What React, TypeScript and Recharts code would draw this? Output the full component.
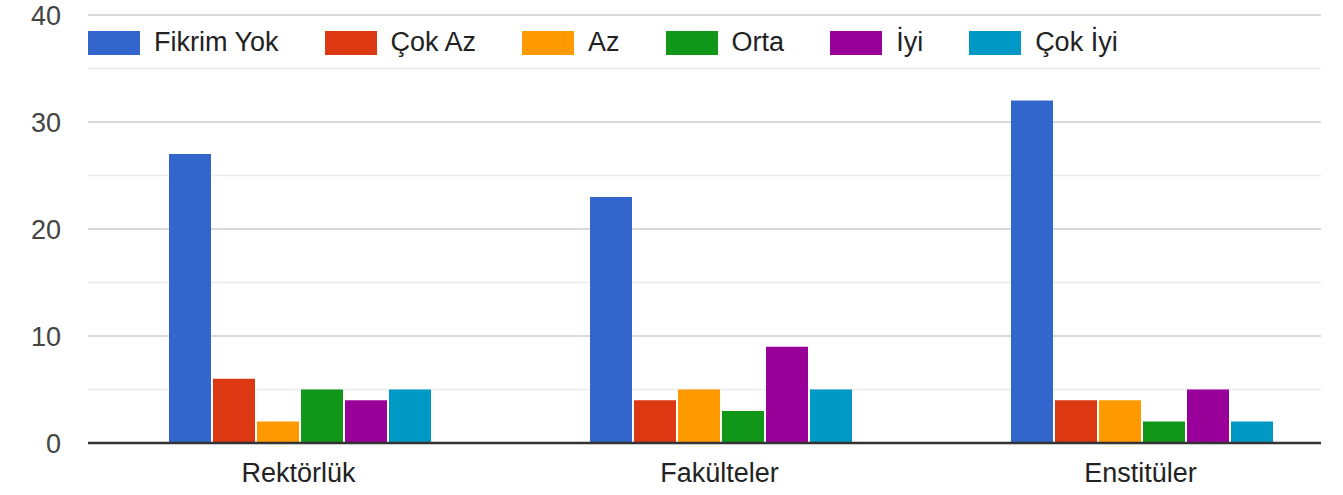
import React from 'react';
import { BarChart, Bar, XAxis, YAxis, CartesianGrid } from 'recharts';

const categories = ['Rektörlük', 'Fakülteler', 'Enstitüler'];
const seriesNames = ['Fikrim Yok', 'Çok Az', 'Az', 'Orta', 'İyi', 'Çok İyi'];
const seriesColors = ['#3366cc', '#dc3912', '#ff9900', '#109618', '#990099', '#0099c6'];

const fikrimYok = [27, 23, 32];
const cokAz = [6, 4, 4];
const az = [2, 5, 4];
const orta = [5, 3, 2];
const iyi = [4, 9, 5];
const cokIyi = [5, 5, 2];

const seriesValues = [fikrimYok, cokAz, az, orta, iyi, cokIyi];
const yTicks = [0, 10, 20, 30, 40];
const minorTicks = [5, 15, 25, 35];

const data = categories.map((name, i) => {
  const row: Record<string, string | number> = { name };
  seriesNames.forEach((s, k) => {
    row[s] = seriesValues[k][i];
  });
  return row;
});

const FONT = '"Liberation Sans", Arial, sans-serif';

export default function App() {
  return (
    <div style={{ position: 'absolute', left: 0, top: 0, width: 1343, height: 495, fontFamily: FONT }}>
      <BarChart
        width={1343}
        height={495}
        data={data}
        margin={{ top: 15, right: 22, left: 0, bottom: 0 }}
        barCategoryGap={81}
        barGap={2}
      >
        <CartesianGrid vertical={false} horizontalValues={minorTicks} stroke="#ebebeb" strokeWidth={1.5} />
        <CartesianGrid vertical={false} stroke="#cccccc" strokeWidth={1.5} />
        <YAxis
          domain={[0, 40]}
          ticks={yTicks}
          width={88}
          axisLine={false}
          tickLine={false}
          tickMargin={21}
          tick={{ fill: '#444444', fontSize: 27, fontFamily: FONT }}
        />
        <XAxis
          dataKey="name"
          height={52}
          padding={{ left: 0, right: -30 }}
          axisLine={{ stroke: '#333333', strokeWidth: 2.5 }}
          tickLine={false}
          tickMargin={14}
          tick={{ fill: '#222222', fontSize: 27, fontFamily: FONT }}
        />
        {seriesNames.map((s, k) => (
          <Bar key={s} dataKey={s} fill={seriesColors[k]} isAnimationActive={false} />
        ))}
      </BarChart>
      <div
        style={{
          position: 'absolute',
          left: 88,
          top: 30,
          display: 'flex',
          alignItems: 'center',
          height: 25,
        }}
      >
        {seriesNames.map((s, k) => (
          <div key={s} style={{ display: 'flex', alignItems: 'center', marginRight: 46 }}>
            <div style={{ width: 52, height: 24, background: seriesColors[k], marginRight: 14 }} />
            <span style={{ fontSize: 27, color: '#222222', lineHeight: '25px' }}>{s}</span>
          </div>
        ))}
      </div>
    </div>
  );
}
